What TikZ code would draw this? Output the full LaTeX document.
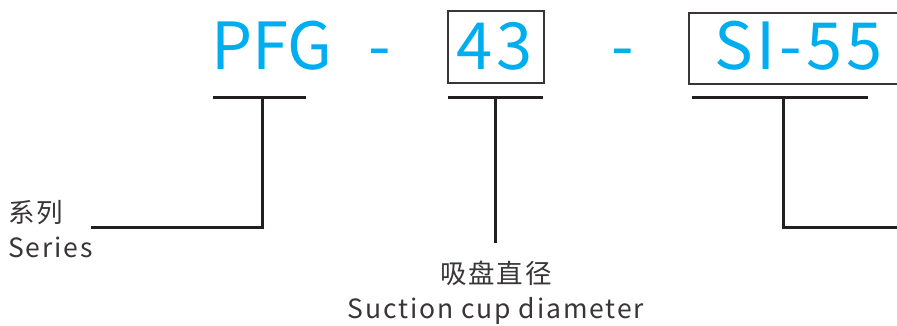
\documentclass[tikz,border=0pt]{standalone}
\usepackage{fontspec}
\setmainfont{Noto Sans CJK SC}
\newfontfamily\codefont[LetterSpace=6]{Noto Sans CJK SC}
\newfontfamily\lblfont[LetterSpace=7]{Noto Sans CJK SC}
\definecolor{codeblue}{HTML}{00AEEF}
\definecolor{linegray}{HTML}{231F20}
\tikzset{
  code/.style={inner sep=0pt, text=codeblue, font=\fontsize{65}{65}\selectfont},
  codesp/.style={inner sep=0pt, text=codeblue, font=\codefont\fontsize{65}{65}\selectfont},
  lbl/.style={inner sep=0pt, text=linegray!90, font=\lblfont\fontsize{26.5}{26.5}\selectfont},
  conn/.style={draw=linegray, line width=3pt},
  frame/.style={draw=linegray!90, line width=1.6pt}
}
\begin{document}
\begin{tikzpicture}[x=1pt,y=-1pt]
\useasboundingbox (0,0) rectangle (897,326);
\clip (0,0) rectangle (897,326);
% code texts
\node[code, anchor=base west] (pfg) at (211,70) {PFG};
\node[code, anchor=base west] (d1) at (368,70) {-};
\node[codesp, anchor=base west] (n43) at (456,70) {43};
\node[code, anchor=base west] (d2) at (611,70) {-};
\node[codesp, anchor=base west] (si) at (714,70) {SI-55};
% frames
\draw[frame] (448,11) rectangle (544,83);
\draw[frame] (689,13) rectangle (930,84);
% underline bars
\coordinate (b1l) at (213,98); \coordinate (b1r) at (306,98); \coordinate (b1m) at (262,98);
\coordinate (b2l) at (448,98); \coordinate (b2r) at (543,98); \coordinate (b2m) at (495,98);
\coordinate (b3l) at (692,98); \coordinate (b3r) at (868,98); \coordinate (b3m) at (783,98);
\draw[conn] (b1l) -- (b1r);
\draw[conn] (b2l) -- (b2r);
\draw[conn] (b3l) -- (b3r);
% labels
\node[lbl, anchor=base west] (ser1) at (8,222) {系列};
\node[lbl, anchor=base west] (ser2) at (8,257) {Series};
\node[lbl, anchor=base] (dia1) at (496,283) {吸盘直径};
\node[lbl, anchor=base] (dia2) at (496,318) {Suction cup diameter};
% connectors
\coordinate (c1) at (91,227);
\draw[conn, line join=miter] (b1m) -- (262,227) -- (c1);
\draw[conn] (b2m) -- (495,243);
\coordinate (c3) at (910,227);
\draw[conn, line join=miter] (b3m) -- (783,227) -- (c3);
\end{tikzpicture}
\end{document}
